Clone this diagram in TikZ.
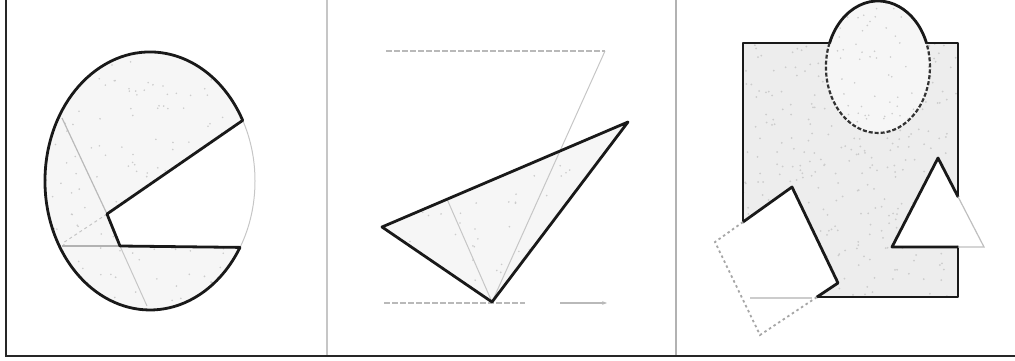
\documentclass[tikz,border=0pt]{standalone}
\usetikzlibrary{arrows.meta}
\begin{document}
\begin{tikzpicture}[x=1pt,y=-1pt,
  bold/.style={line width=2.8pt, line join=round, line cap=round, black!90},
  faint/.style={line width=1pt, gray!45},
  dotline/.style={line width=1.8pt, gray!70, dash pattern=on 2.5pt off 3pt},
  stipple/.style={fill=gray!14},
  lightstipple/.style={fill=gray!7},
  speck/.style={fill=gray!40}]
\pgfmathsetseed{7}
\useasboundingbox (0,0) rectangle (1015,361);
% frame and dividers
\draw[line width=2pt, black!85] (6,0) -- (6,356) -- (1015,356);
\draw[gray!45, line width=2pt] (327,0) -- (327,355);
\draw[gray!60, line width=2.5pt] (676,0) -- (676,355);

% ---------- panel 1 ----------
\fill[lightstipple] (242.7,120.4) arc[start angle=-28,end angle=-329,x radius=105,y radius=129] -- (120,246) -- (107,214) -- cycle;
\begin{scope}
\clip (242.7,120.4) arc[start angle=-28,end angle=-329,x radius=105,y radius=129] -- (120,246) -- (107,214) -- cycle;
\foreach \i in {1,...,160}{\fill[speck] ({45+200*rnd},{52+258*rnd}) circle (0.9);}
\end{scope}
\draw[faint] (150,181) ellipse[x radius=105, y radius=129];
\draw[gray!55, line width=1.2pt] (62,118) -- (107,214);
\draw[gray!45, line width=1pt] (120,246) -- (147,306);
\draw[gray!45, line width=1pt, dashed] (107,214) -- (63,243);
\draw[gray!60, line width=1.8pt] (62,246) -- (120,246);
\draw[bold] (242.7,120.4) arc[start angle=-28,end angle=-329,x radius=105,y radius=129] -- (120,246) -- (107,214) -- cycle;

% ---------- panel 2 ----------
\fill[lightstipple] (382,227) -- (628,122) -- (492,302) -- cycle;
\begin{scope}
\clip (382,227) -- (628,122) -- (492,302) -- cycle;
\foreach \i in {1,...,90}{\fill[speck] ({382+246*rnd},{122+180*rnd}) circle (0.9);}
\end{scope}
\draw[faint] (447,199) -- (492,302);
\draw[faint] (605,51) -- (492,302);
\draw[gray!55, line width=1.3pt, dash pattern=on 6pt off 2pt] (386,51) -- (605,51);
\draw[gray!55, line width=1.3pt, dash pattern=on 6pt off 2pt] (384,303) -- (525,303);
\draw[gray!55, line width=1.2pt, -{Stealth[length=5pt]}] (560,303) -- (607,303);
\draw[bold] (382,227) -- (628,122) -- (492,302) -- cycle;

% ---------- panel 3 ----------
\fill[stipple] (743,43) rectangle (958,297);
\begin{scope}
\clip (743,43) rectangle (958,297);
\foreach \i in {1,...,320}{\fill[speck] ({743+215*rnd},{43+254*rnd}) circle (1);}
\end{scope}
\fill[lightstipple] (878,67) ellipse[x radius=52, y radius=66];
\begin{scope}
\clip (878,67) ellipse[x radius=52, y radius=66];
\foreach \i in {1,...,70}{\fill[speck] ({826+104*rnd},{1+132*rnd}) circle (0.9);}
\end{scope}
\fill[white] (792,187) -- (838,283) -- (760,335) -- (715,242) -- cycle;
\fill[white] (938,158) -- (892,247) -- (984,247) -- cycle;
% rectangle edges
\draw[bold] (829.5,43) -- (743,43) -- (743,222);
\draw[bold] (926.5,43) -- (958,43) -- (958,196.7);
\draw[bold] (958,247) -- (958,297) -- (817,297);
\draw[gray!40, line width=1.2pt] (750,298) -- (812,298);
% ellipse
\draw[bold] (926.5,43) arc[start angle=-21.3,end angle=-158.7,x radius=52,y radius=66];
\draw[line width=2.2pt, black!80, dash pattern=on 4pt off 2pt] (829.5,43) arc[start angle=-158.7,end angle=-381.3,x radius=52,y radius=66];
% square
\draw[bold] (743,222) -- (792,187) -- (838,283) -- (817,297);
\draw[dotline] (743,222) -- (715,242) -- (760,335) -- (817,297);
% triangle
\draw[bold] (958,196.7) -- (938,158) -- (892,247) -- (958,247);
\draw[gray!50, line width=1.2pt] (958,196.7) -- (984,247) -- (958,247);
\end{tikzpicture}
\end{document}
